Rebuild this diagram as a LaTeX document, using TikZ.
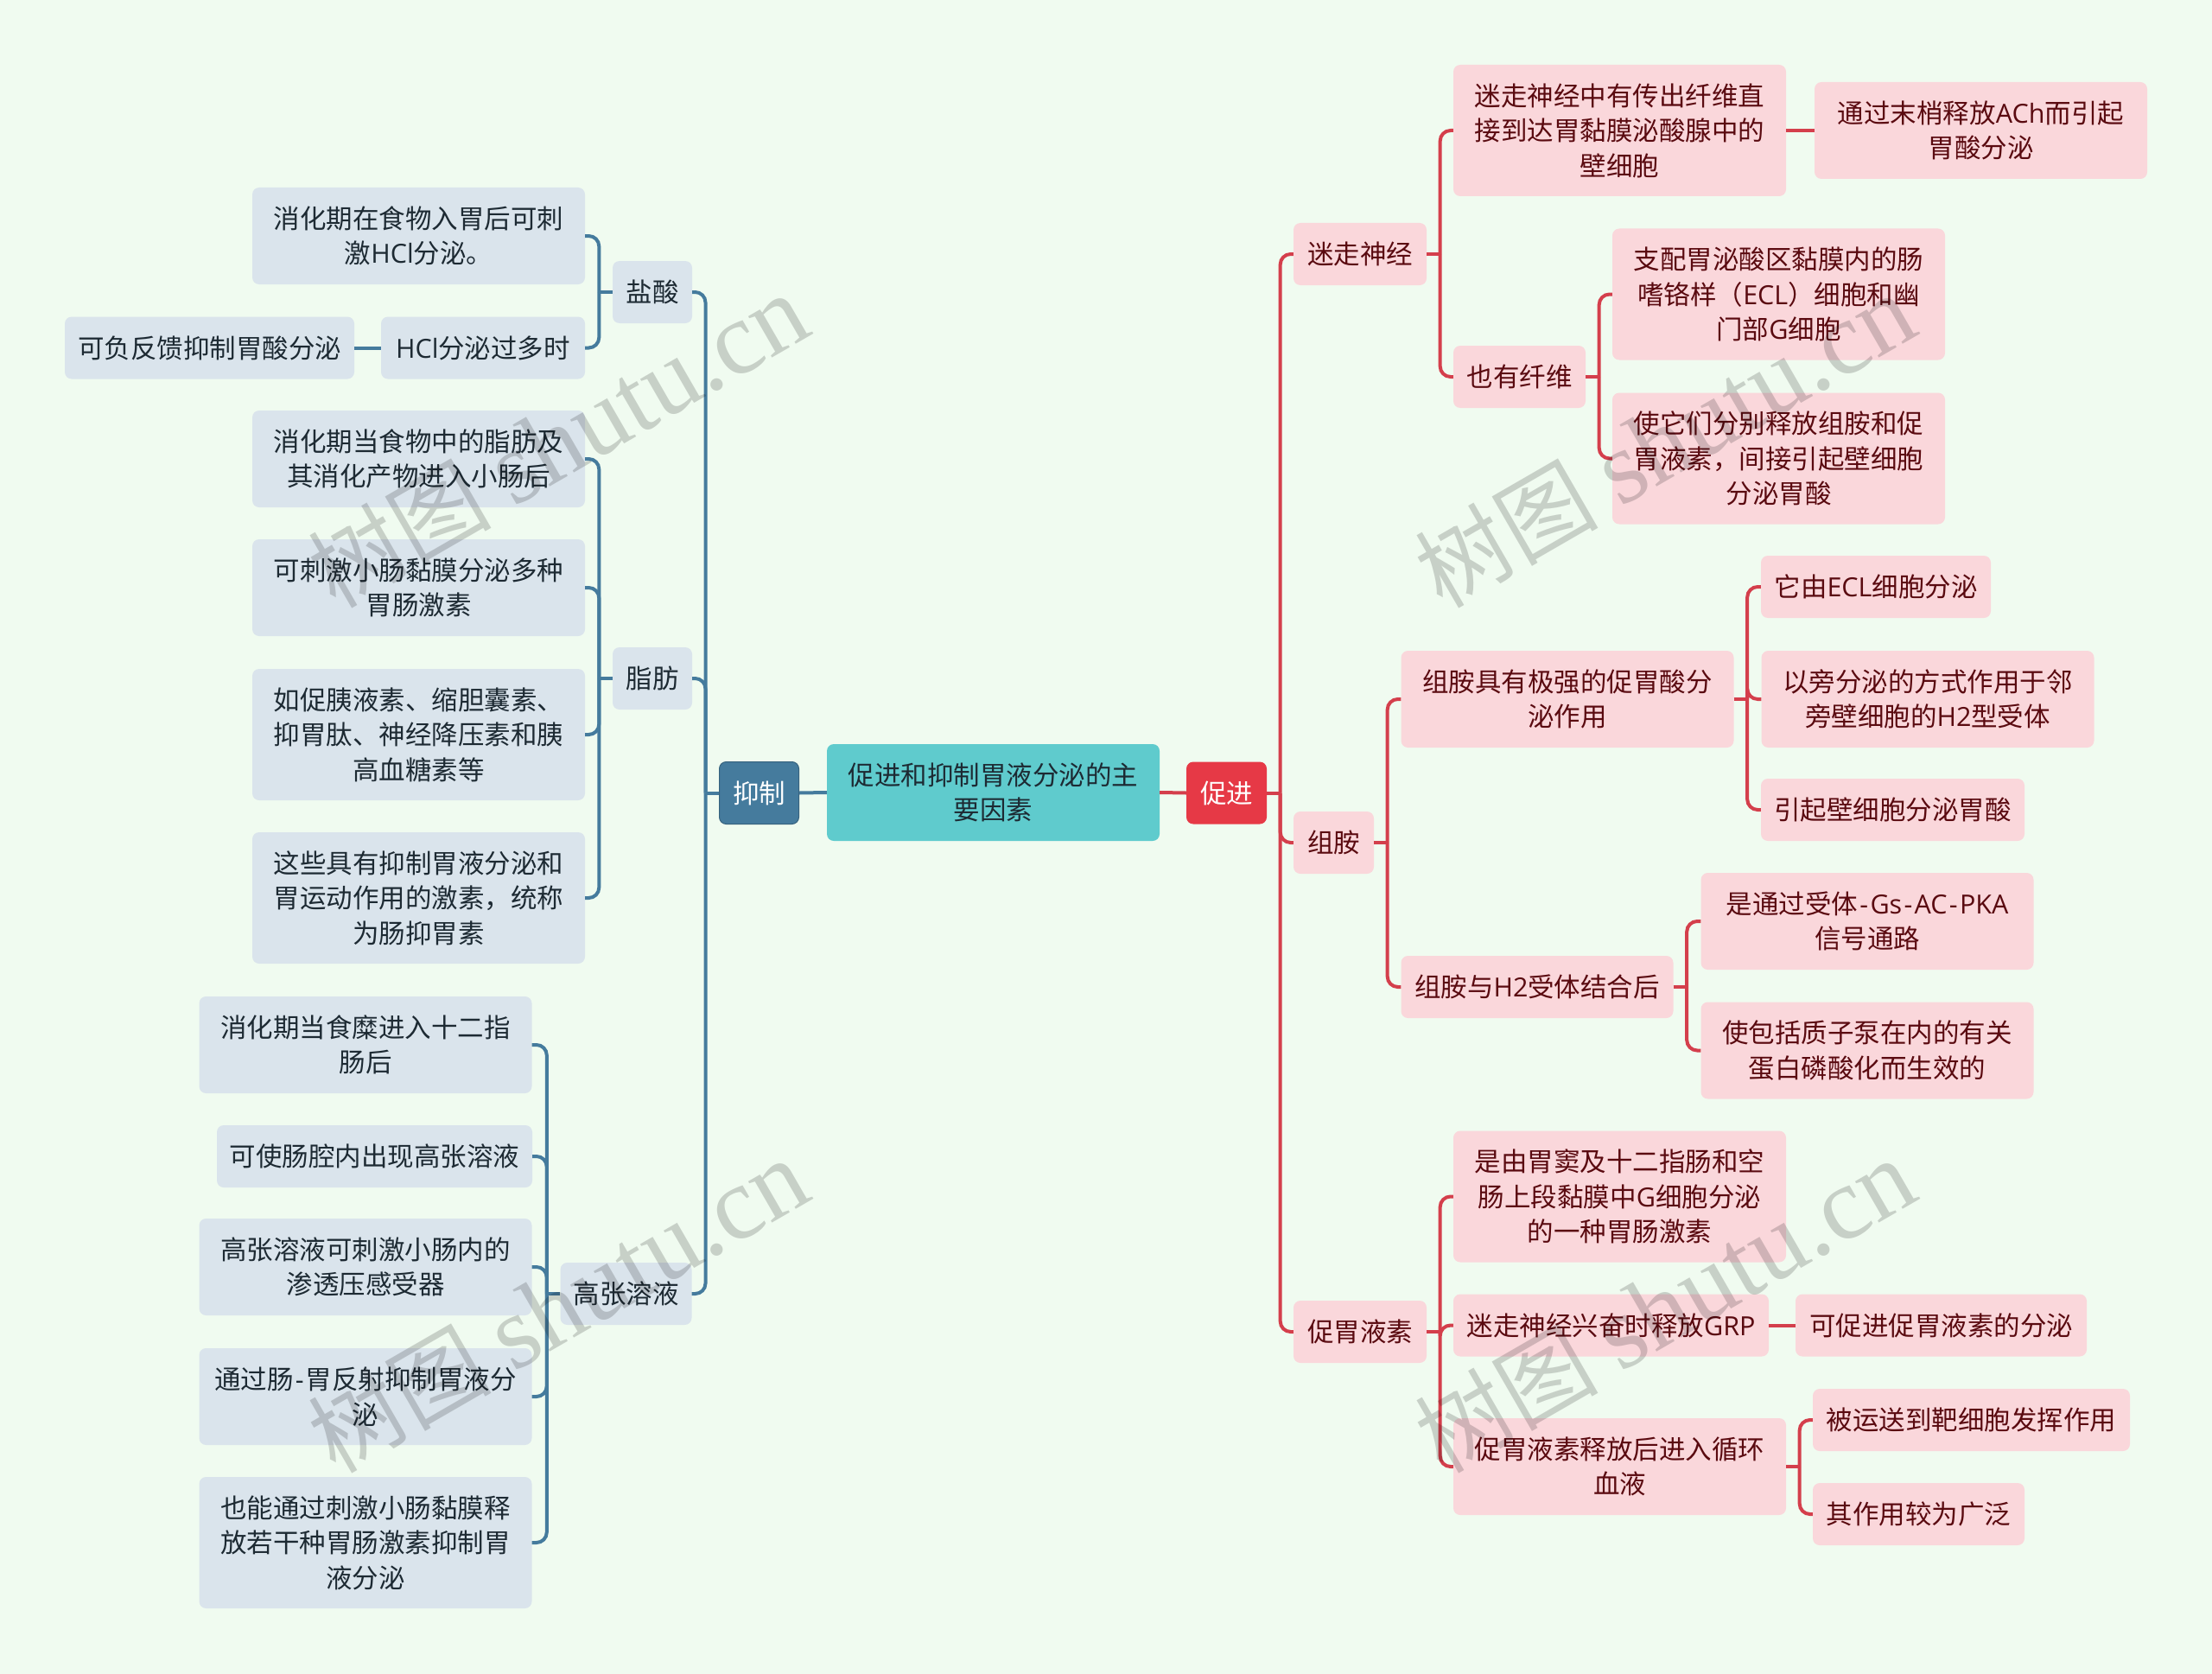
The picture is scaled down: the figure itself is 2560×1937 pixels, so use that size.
\documentclass[tikz,border=0pt]{standalone}
\usepackage{fontspec}
\setmainfont{Noto Sans CJK SC}
\newfontfamily\markfont{Liberation Serif}
\newfontfamily\latfont{Open Sans}
\newcommand{\lat}[1]{{\latfont #1}}
\newcommand{\hy}{\kern2.3pt-\kern2.3pt}
\newcommand{\marktext}{{\fontsize{106}{106}\selectfont 树图}\kern25pt{\markfont shutu.cn}}
\definecolor{pagebg}{HTML}{F0FBF0}
\definecolor{redmain}{HTML}{E63946}
\definecolor{redline}{HTML}{D43F4C}
\definecolor{redpale}{HTML}{FAD7DB}
\definecolor{redtext}{HTML}{5A0A10}
\definecolor{bluemain}{HTML}{457B9D}
\definecolor{bluepale}{HTML}{DAE4EC}
\definecolor{bluetext}{HTML}{1D2A33}
\definecolor{rootfill}{HTML}{5FCBCD}

\tikzset{
    box/.style={rectangle, rounded corners=8pt, inner sep=0pt, align=center, minimum width=385pt, minimum height=112pt,
        font=\fontsize{30.5}{40.5}\selectfont},
    pinkbox/.style={box, fill=redpale, text=redtext},
    greybox/.style={box, fill=bluepale, text=bluetext},
    oneline/.style={minimum height=72pt},
    threeline/.style={minimum height=152pt},
    redlink/.style={draw=redline, line width=4pt, rounded corners=12pt},
    bluelink/.style={draw=bluemain, line width=4pt, rounded corners=12pt},
    watermark/.style={rotate=30, text opacity=0.17, text=black, font=\fontsize{120}{120}\selectfont}
}

\begin{document}
\begin{tikzpicture}[x=1pt, y=-1pt]
    % page
    \fill[pagebg] (0,0) rectangle (2560,1937);
    % nodes, centre
    \node[box, fill=rootfill, text=bluetext]                      (root)    at (1149.5,917) {促进和抑制胃液分泌的主\\要因素};
    \node[box, oneline, minimum width=93pt, fill=redmain, text=white]  (cujin)   at (1419.5,917.5) {促进};
    \node[box, oneline, minimum width=92pt, fill=bluemain, text=white, draw=bluemain!80!black, line width=1pt] (yizhi) at (878.5,917.5) {抑制};
    % nodes, right
    \node[pinkbox, oneline, minimum width=154pt]  (migu)    at (1574,294)      {迷走神经};
    \node[pinkbox, threeline]                     (miguA)   at (1874.5,151)    {迷走神经中有传出纤维直\\接到达胃黏膜泌酸腺中的\\壁细胞};
    \node[pinkbox]                                (miguAa)  at (2292.5,151)    {通过末梢释放\lat{ACh}而引起\\胃酸分泌};
    \node[pinkbox, oneline, minimum width=153pt]  (miguB)   at (1758.5,436)    {也有纤维};
    \node[pinkbox, threeline]                     (miguBa)  at (2058.5,340.5)  {支配胃泌酸区黏膜内的肠\\嗜铬样（\lat{ECL}）细胞和幽\\门部\lat{G}细胞};
    \node[pinkbox, threeline]                     (miguBb)  at (2058.5,530.5)  {使它们分别释放组胺和促\\胃液素，间接引起壁细胞\\分泌胃酸};
    \node[pinkbox, oneline, minimum width=93pt]   (zuan)    at (1543.5,975)    {组胺};
    \node[pinkbox]                                (zuanA)   at (1814,809)      {组胺具有极强的促胃酸分\\泌作用};
    \node[pinkbox, oneline, minimum width=266pt]  (zuanAa)  at (2171,679)      {它由\lat{ECL}细胞分泌};
    \node[pinkbox]                                (zuanAb)  at (2231,809)      {以旁分泌的方式作用于邻\\旁壁细胞的\lat{H2}型受体};
    \node[pinkbox, oneline, minimum width=305pt]  (zuanAc)  at (2190.5,937)    {引起壁细胞分泌胃酸};
    \node[pinkbox, oneline, minimum width=315pt]  (zuanB)   at (1779,1142)     {组胺与\lat{H2}受体结合后};
    \node[pinkbox]                                (zuanBa)  at (2161,1066)     {是通过受体\lat{\hy Gs\hy AC\hy PKA}\\信号通路};
    \node[pinkbox]                                (zuanBb)  at (2161,1215.5)   {使包括质子泵在内的有关\\蛋白磷酸化而生效的};
    \node[pinkbox, oneline, minimum width=154pt]  (cuwei)   at (1574,1541)     {促胃液素};
    \node[pinkbox, threeline]                     (cuweiA)  at (1874.5,1384.5) {是由胃窦及十二指肠和空\\肠上段黏膜中\lat{G}细胞分泌\\的一种胃肠激素};
    \node[pinkbox, oneline, minimum width=365pt]  (cuweiB)  at (1864.5,1533.5) {迷走神经兴奋时释放\lat{GRP}};
    \node[pinkbox, oneline, minimum width=337pt]  (cuweiBa) at (2246.5,1533.5) {可促进促胃液素的分泌};
    \node[pinkbox]                                (cuweiC)  at (1874.5,1697)   {促胃液素释放后进入循环\\血液};
    \node[pinkbox, oneline, minimum width=367pt]  (cuweiCa) at (2281.5,1643)   {被运送到靶细胞发挥作用};
    \node[pinkbox, oneline, minimum width=245pt]  (cuweiCb) at (2220.5,1752)   {其作用较为广泛};
    % nodes, left
    \node[greybox, oneline, minimum width=92pt]   (yansuan) at (755,338)       {盐酸};
    \node[greybox]                                (yanA)    at (484.5,273)     {消化期在食物入胃后可刺\\激\lat{HCl}分泌。};
    \node[greybox, oneline, minimum width=236pt]  (yanB)    at (559,402.5)     {\lat{HCl}分泌过多时};
    \node[greybox, oneline, minimum width=335pt]  (yanBa)   at (242.5,402.5)   {可负反馈抑制胃酸分泌};
    \node[greybox, oneline, minimum width=92pt]   (zhifang) at (755,785)       {脂肪};
    \node[greybox]                                (zhiA)    at (484.5,531)     {消化期当食物中的脂肪及\\其消化产物进入小肠后};
    \node[greybox]                                (zhiB)    at (484.5,680)     {可刺激小肠黏膜分泌多种\\胃肠激素};
    \node[greybox, threeline]                     (zhiC)    at (484.5,850)     {如促胰液素、缩胆囊素、\\抑胃肽、神经降压素和胰\\高血糖素等};
    \node[greybox, threeline]                     (zhiD)    at (484.5,1039)    {这些具有抑制胃液分泌和\\胃运动作用的激素，统称\\为肠抑胃素};
    \node[greybox, oneline, minimum width=152pt]  (gaozhang) at (724.5,1497)   {高张溶液};
    \node[greybox]                                (gaoA)    at (423,1209)      {消化期当食糜进入十二指\\肠后};
    \node[greybox, oneline, minimum width=365pt]  (gaoB)    at (433.5,1338)    {可使肠腔内出现高张溶液};
    \node[greybox]                                (gaoC)    at (423,1466)      {高张溶液可刺激小肠内的\\渗透压感受器};
    \node[greybox]                                (gaoD)    at (423,1616)      {通过肠\lat{\hy}胃反射抑制胃液分\\泌};
    \node[greybox, threeline]                     (gaoE)    at (423,1785)      {也能通过刺激小肠黏膜释\\放若干种胃肠激素抑制胃\\液分泌};
    % lines
    \draw[redlink] (root.east) -- (cujin.west);
    \draw[bluelink] (root.west) -- (yizhi.east);
    \draw[redlink] (miguA.east) -- (miguAa.west);
    \draw[redlink] (cuweiB.east) -- (cuweiBa.west);
    \draw[bluelink] (yanB.west) -- (yanBa.east);
    \foreach \from/\kids in {cujin/{migu,zuan,cuwei}, migu/{miguA,miguB}, miguB/{miguBa,miguBb},
        zuan/{zuanA,zuanB}, zuanA/{zuanAa,zuanAb,zuanAc}, zuanB/{zuanBa,zuanBb},
        cuwei/{cuweiA,cuweiB,cuweiC}, cuweiC/{cuweiCa,cuweiCb}} {
        \draw[redlink] (\from.east) -- ++(15.5,0) coordinate (stub);
        \foreach \kid in \kids
            \draw[redlink] (stub) |- (\kid.west);
    }
    \foreach \from/\kids in {yizhi/{yansuan,zhifang,gaozhang}, yansuan/{yanA,yanB},
        zhifang/{zhiA,zhiB,zhiC,zhiD}, gaozhang/{gaoA,gaoB,gaoC,gaoD,gaoE}} {
        \draw[bluelink] (\from.west) -- ++(-15.5,0) coordinate (stub);
        \foreach \kid in \kids
            \draw[bluelink] (stub) |- (\kid.east);
    }
    % marks
    \node[watermark] (markA) at (646,511)   {\marktext};
    \node[watermark] (markB) at (1927,511)  {\marktext};
    \node[watermark] (markC) at (646,1512)  {\marktext};
    \node[watermark] (markD) at (1927,1512) {\marktext};
\end{tikzpicture}
\end{document}
